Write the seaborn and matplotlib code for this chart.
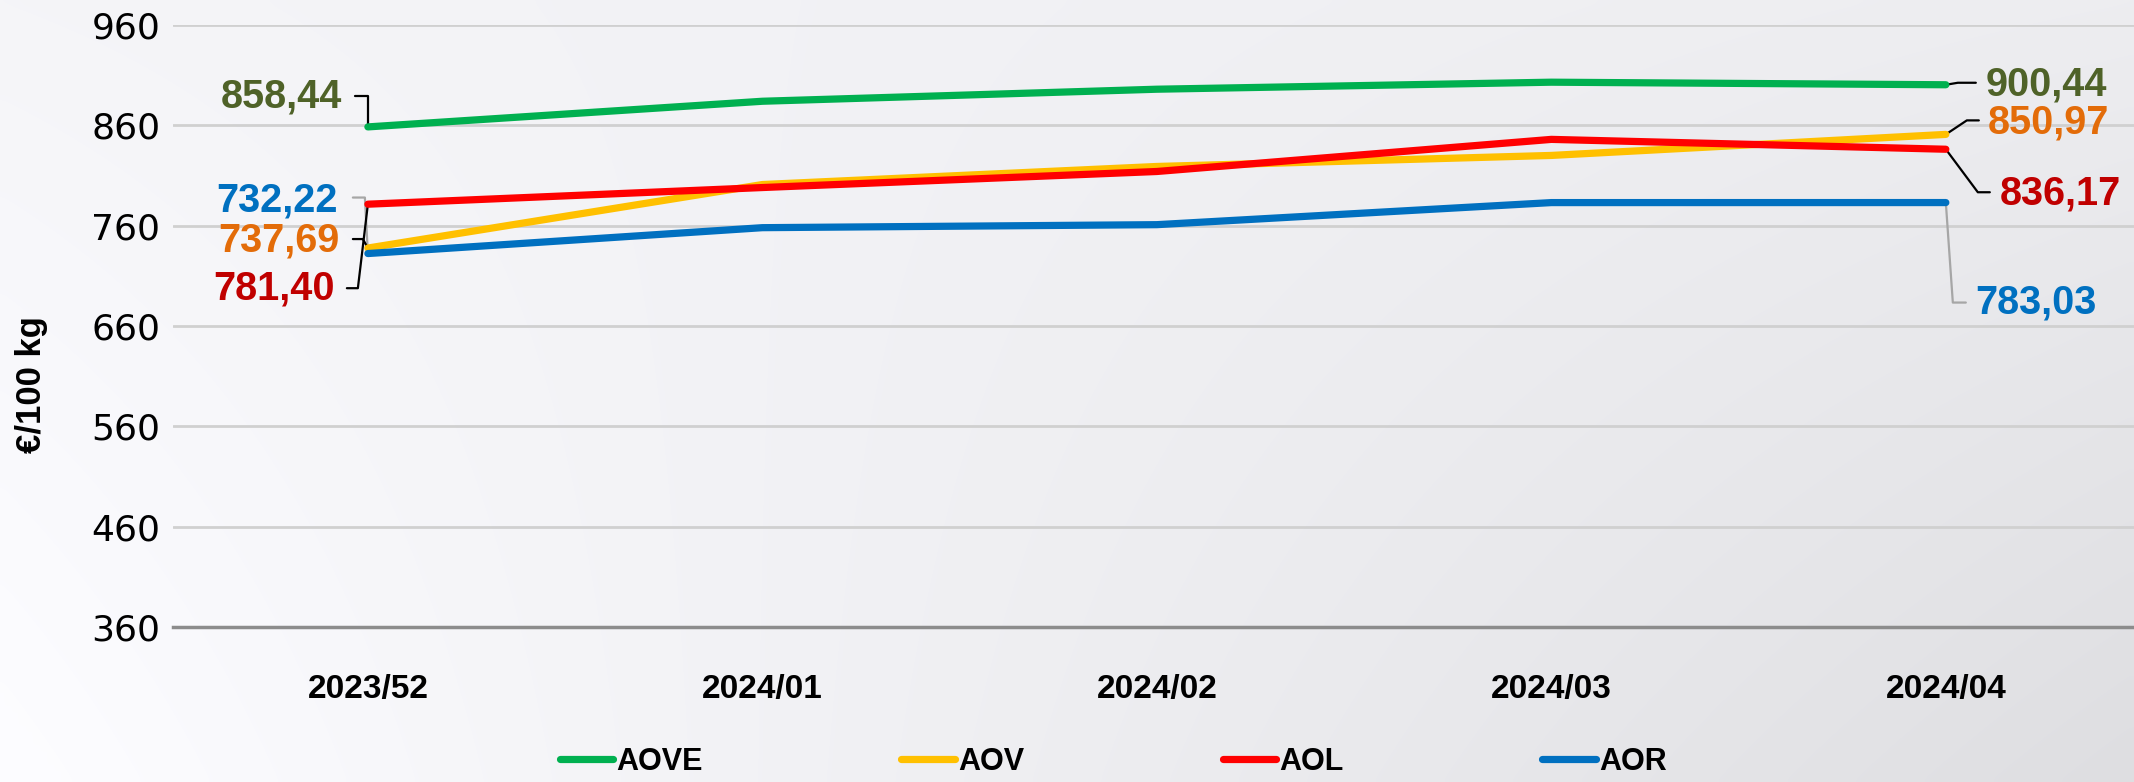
import numpy as np
import pandas as pd
import matplotlib.pyplot as plt
from matplotlib.lines import Line2D
import seaborn as sns

# semaines et prix (EUR/100 kg)
weeks = ['2023/52', '2024/01', '2024/02', '2024/03', '2024/04']
aove = [858.44, 884.0, 896.0, 903.0, 900.44]
aov = [737.69, 801.0, 819.0, 830.0, 850.97]
aol = [781.40, 798.0, 814.0, 846.0, 836.17]
aor = [732.22, 758.0, 761.0, 783.0, 783.03]
series = ['AOVE', 'AOV', 'AOL', 'AOR']
yticks = [360, 460, 560, 660, 760, 860, 960]

line_colors = {'AOVE': '#00B050', 'AOV': '#FFC000', 'AOL': '#FF0000', 'AOR': '#0070C0'}
label_colors = {'AOVE': '#4F6228', 'AOV': '#E36C09', 'AOL': '#C00000', 'AOR': '#0070C0'}

df = pd.DataFrame({
    'week': weeks * 4,
    'price': aove + aov + aol + aor,
    'serie': [s for s in series for _ in weeks],
})

sns.set_style('white')
narrow = ['Liberation Sans', 'DejaVu Sans']
plt.rcParams['font.family'] = ['DejaVu Sans']
plt.rcParams['text.color'] = 'black'
plt.rcParams['xtick.labelcolor'] = 'black'
plt.rcParams['ytick.labelcolor'] = 'black'

fig = plt.figure(figsize=(21.34, 7.82), dpi=100)

# fond en degrade
bg = fig.add_axes([0, 0, 1, 1], zorder=-10)
gx, gy = np.meshgrid(np.linspace(0, 1, 300), np.linspace(1, 0, 120))
bl, tl, tr, br = 253, 245, 237, 222
grad = (bl * (1 - gx) * (1 - gy) + tl * (1 - gx) * gy + tr * gx * gy + br * gx * (1 - gy)) / 255
rgb = np.dstack([grad, grad, grad + 0.012]).clip(0, 1)
bg.imshow(rgb, aspect='auto', extent=[0, 1, 0, 1], interpolation='bicubic')
bg.axis('off')

ax = fig.add_axes([173 / 2134, 1 - 627 / 782, 1 - 173 / 2134, (627 - 25) / 782])
ax.set_facecolor('none')

sns.lineplot(data=df, x='week', y='price', hue='serie', hue_order=series,
             palette=line_colors, linewidth=5.2, sort=False, legend=False, ax=ax,
             solid_capstyle='round', zorder=4)

ax.set_xlim(-0.494, 4.477)
ax.set_ylim(360, 960)
ax.set_yticks(yticks)
ax.grid(axis='y', color='#D0D0D0', linewidth=2)
ax.grid(axis='x', visible=False)
for side in ['top', 'right', 'left']:
    ax.spines[side].set_visible(False)
ax.spines['bottom'].set_color('#8C8C8C')
ax.spines['bottom'].set_linewidth(2.5)
ax.tick_params(axis='y', length=0, pad=9, labelsize=26, labelcolor='black')
ax.tick_params(axis='x', direction='inout', length=13, width=1.5, color='#8C8C8C', pad=27,
               labelcolor='black')
for t in ax.get_xticklabels():
    t.set_family(narrow)
    t.set_fontweight('bold')
    t.set_fontsize(24)
ax.set_xlabel('')
ax.set_ylabel('')

fig.text(32 / 2134, 1 - 385 / 782, '€/100 kg', rotation=90, ha='center', va='center',
         fontsize=25, fontweight='bold', family=narrow, color='black')

values = {'AOVE': aove, 'AOV': aov, 'AOL': aol, 'AOR': aor}

# etiquettes: (serie, index, trait en pixels, position du texte, alignement, couleur du trait)
labels = [
    ('AOVE', 0, [(0, 0), (0, -31), (-13, -31)], (-26, -30), 'right', 'black'),
    ('AOR', 0, [(0, 0), (-3, -56), (-15, -56)], (-30, -53), 'right', '#A6A6A6'),
    ('AOV', 0, [(0, 0), (-5, -9), (-15, -9)], (-28, -8), 'right', 'black'),
    ('AOL', 0, [(0, 0), (-10, 84), (-21, 84)], (-33, 84), 'right', 'black'),
    ('AOVE', 4, [(0, 0), (12, -2), (30, -2)], (40, 0), 'left', 'black'),
    ('AOV', 4, [(0, 0), (21, -14), (33, -14)], (42, -12), 'left', 'black'),
    ('AOL', 4, [(0, 0), (32, 43), (44, 43)], (54, 44), 'left', 'black'),
    ('AOR', 4, [(0, 0), (7, 100), (20, 100)], (29, 100), 'left', '#A6A6A6'),
]

for s, i, path, (tx, ty), ha, lc in labels:
    v = values[s][i]
    x0, y0 = ax.transData.transform((i, v))
    inv = ax.transData.inverted()
    pts = np.array([inv.transform((x0 + dx, y0 - dy)) for dx, dy in path])
    ax.plot(pts[:, 0], pts[:, 1], color=lc, linewidth=1.6, clip_on=False, zorder=3)
    ax.annotate(f'{v:.2f}'.replace('.', ','), xy=(i, v), xytext=(tx, -ty),
                textcoords='offset pixels', ha=ha, va='center', color=label_colors[s],
                fontsize=28.5, fontweight='bold', family=narrow, annotation_clip=False)

handles = [Line2D([], [], color=line_colors[s], linewidth=5.2, solid_capstyle='round') for s in series]
leg = fig.legend(handles, series, loc='center', bbox_to_anchor=(0.5216, 1 - 762 / 782), ncol=4,
                 frameon=False, handlelength=1.75, handletextpad=0.1, columnspacing=6.5,
                 labelcolor='black', prop={'family': narrow, 'weight': 'bold', 'size': 22})

fig.savefig('out.png', dpi=100)
